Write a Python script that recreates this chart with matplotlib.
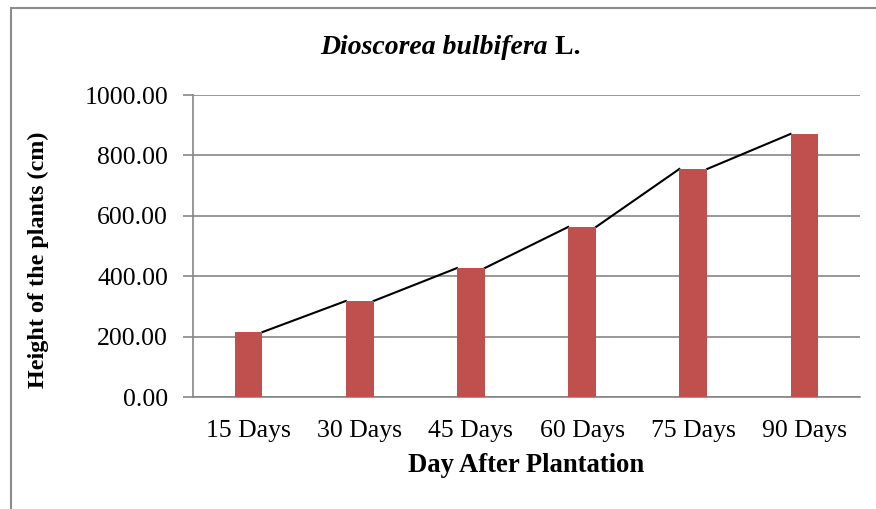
import numpy as np
import matplotlib
matplotlib.use("Agg")
import matplotlib.pyplot as plt
from matplotlib.patches import Rectangle

# Data

categories = ["15 Days", "30 Days", "45 Days", "60 Days", "75 Days", "90 Days"]
heights = [215, 318, 427, 563, 755, 871]
yticks = [0, 200, 400, 600, 800, 1000]

# Figure settings

plt.rcParams["font.family"] = ["Liberation Serif", "DejaVu Serif"]
W, H = 876, 509
fig = plt.figure(figsize=(W/100, H/100), dpi=100)

bar_color = "#C0504D"
grid_color = "#868686"
fs = 18.5
bar_width = 0.25

ax = fig.add_axes([193/W, 1 - 397/H, 667/W, 302/H])

x = np.arange(len(categories))
ax.bar(x, heights, width=bar_width, color=bar_color, zorder=3)

# segments from one bar top to the next
lx, ly = [], []
for i in range(len(x) - 1):
    lx += [x[i] + bar_width/2, x[i + 1] - bar_width/2, np.nan]
    ly += [heights[i], heights[i + 1], np.nan]
ax.plot(lx, ly, color="black", lw=1.5, zorder=2)

ax.set_xlim(-0.5, len(categories) - 0.5)
ax.set_ylim(0, 1000)
ax.set_yticks(yticks)
ax.set_yticklabels([f"{v:.2f}" for v in yticks], fontsize=fs)
ax.set_xticks(x)
ax.set_xticklabels(categories, fontsize=fs)
ax.tick_params(axis="y", length=7, width=1.2, color=grid_color, pad=11)
ax.tick_params(axis="x", length=0, pad=16.5)
ax.yaxis.grid(True, color=grid_color, lw=1.2, zorder=0)
ax.set_axisbelow(True)
for side in ["top", "right"]:
    ax.spines[side].set_visible(False)
for side in ["left", "bottom"]:
    ax.spines[side].set_color(grid_color)
    ax.spines[side].set_linewidth(1.2)

# Labels and title

fig.text(526/W, 1 - 466/H, "Day After Plantation", ha="center", va="center",
         fontsize=19.2, weight="bold")
fig.text(38/W, 1 - 260/H, "Height of the plants (cm)", ha="center", va="center",
         rotation=90, fontsize=17.4, weight="bold")
t1 = fig.text(320/W, 1 - 47/H, "Dioscorea bulbifera", ha="left", va="center",
              fontsize=20, weight="bold", style="italic")
ax.annotate(" L.", xy=(1, 0), xycoords=t1, ha="left", va="bottom",
            fontsize=20, weight="bold", annotation_clip=False)

# outer border
fig.patches.append(Rectangle((11/W, -0.1), 1.2, 1 - 8/H + 0.1,
                             transform=fig.transFigure, fill=False,
                             edgecolor="#8c8c8c", lw=1.5))

plt.savefig("out.png", dpi=100)
plt.close()
